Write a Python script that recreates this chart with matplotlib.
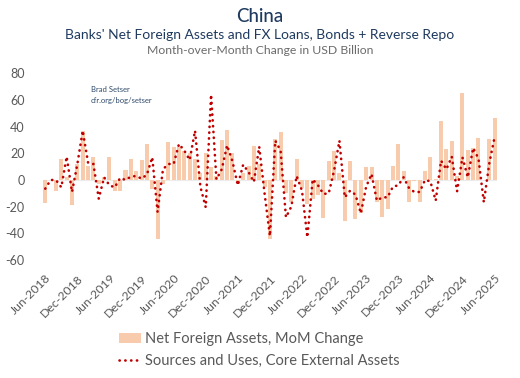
import matplotlib
matplotlib.use("Agg")
import matplotlib.pyplot as plt
import numpy as np
from matplotlib.patches import Patch
from matplotlib.lines import Line2D

month_names = ["Jan", "Feb", "Mar", "Apr", "May", "Jun", "Jul", "Aug", "Sep", "Oct", "Nov", "Dec"]
n = 85
dates = []
for i in range(n):
    m = (5 + i) % 12
    y = 2018 + (5 + i) // 12
    dates.append(month_names[m] + "-" + str(y))

nfa_mom = [-17, 0, -8.5, 16, 2, -18.5, 12, 37, 10.5, 17.5,
           -3, 2, 17.5, -8, -8, 7.5, 15.5, 7, 15, 27,
           -6.5, -44, -3, 28.5, 25, 25, 22, 20, 16, 5,
           20, 10, 3, 30, 37.5, 20, -2, 5, 10.5, 25.5,
           12, -5, -44, 30.5, 36, -10, -16.75, 15.75, -6, -18,
           -14, -11, -28.5, 14, 22, 5, -30.5, 14, -29, -24.5,
           10, 10, -16.75, -27.5, -22, 10.75, 27, 6.5, -16.75, -1,
           -16.75, 6.5, 17.5, 0.75, 44.5, 23.5, 29.5, 3, 65, 22.5,
           24, 31.5, 0, 30.5, 46.5]

core_ext = [-6.5, 0, 0, -5.5, 17.5, -9, 12, 37, 13, 12,
            -14, 2, -4, -5.5, 1.5, 0, 2.5, 3, 1, 4,
            17, -24, 8, 12, 12, 27, 22, 15, 37, -5,
            -20.5, 64, 0.5, 8, 26, 14, -4, 11.5, 6, -1.5,
            25, -10, -42, 29.5, 22, -28, -20, 3, -8, -43,
            0.5, -4, -10.5, -10, 7, 29.5, -13, -8, -11, -25,
            -5, 4.5, -15.5, -13, -13, -5, -4, 2, -6, -9,
            -9, 0, -1, -15.5, 14.5, 8, 17.5, -8.5, 17, 2,
            24, 16, -16.75, 12, 32]

tick_idx = list(range(0, n, 6))
tick_labels = [dates[i] for i in tick_idx]
yticks = [-60, -40, -20, 0, 20, 40, 60, 80]

plt.rcParams['font.family'] = ['Lato', 'DejaVu Sans']

fig = plt.figure(figsize=(5.2, 3.78), dpi=100)
ax = fig.add_axes([42.6 / 520, 1 - 260 / 378, (497.2 - 42.6) / 520, (260 - 73.3) / 378])

dot_style = (0, (0.1, 2.1))
x = np.arange(n)
ax.axhline(0, color="#ececec", lw=0.8, zorder=1)
ax.bar(x, nfa_mom, width=0.75, color="#F8CBAD", zorder=2)
ax.plot(x, core_ext, color="#C00000", lw=1.9, linestyle=dot_style,
        dash_capstyle="round", zorder=3)

ax.set_xlim(-0.5, n - 0.5)
ax.set_ylim(-60, 80)
ax.set_yticks(yticks)
ax.set_yticklabels([str(v) for v in yticks], color="#595959", fontsize=9)
ax.set_xticks(tick_idx)
ax.set_xticklabels(tick_labels, rotation=45, ha="right", va="top",
                   rotation_mode="anchor", color="#595959", fontsize=8.8)
ax.tick_params(axis="both", length=0)
ax.tick_params(axis="y", pad=13)
ax.tick_params(axis="x", pad=9)
for s in ax.spines.values():
    s.set_visible(False)

fig.text(0.5, 1 - 16 / 378, "China", ha="center", va="center", fontsize=13.5,
         color="#1F3A5F", fontweight="medium")
fig.text(0.5, 1 - 35 / 378, "Banks' Net Foreign Assets and FX Loans, Bonds + Reverse Repo",
         ha="center", va="center", fontsize=10, color="#1F3A5F")
fig.text(0.5, 1 - 51 / 378, "Month-over-Month Change in USD Billion",
         ha="center", va="center", fontsize=8.8, color="#6b6b6b")
fig.text(91 / 520, 1 - 89 / 378, "Brad Setser", ha="left", va="center",
         fontsize=5.5, color="#2F4A6B")
fig.text(91 / 520, 1 - 100 / 378, "cfr.org/bog/setser", ha="left", va="center",
         fontsize=5.5, color="#2F4A6B")

handles = [Patch(facecolor="#F8CBAD", edgecolor="none"),
           Line2D([0], [0], color="#C00000", lw=1.9, linestyle=dot_style,
                  dash_capstyle="round")]
leg = fig.legend(handles, ["Net Foreign Assets, MoM Change",
                           "Sources and Uses, Core External Assets"],
                 loc="center left", bbox_to_anchor=(106 / 520, 1 - 350 / 378),
                 frameon=False, fontsize=10.5, handlelength=1.5, handletextpad=0.3,
                 labelspacing=0.55)
for t in leg.get_texts():
    t.set_color("#595959")

fig.savefig("out.png", dpi=100)
